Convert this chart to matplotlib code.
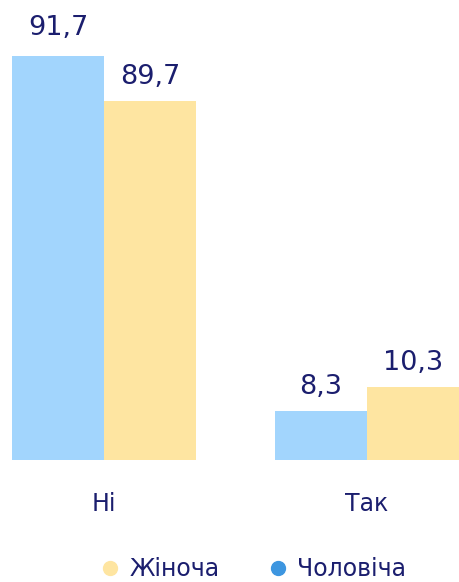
import matplotlib
matplotlib.use("Agg")
import matplotlib.pyplot as plt
import numpy as np
from matplotlib.lines import Line2D

# дані
categories = ["Ні", "Так"]
series_names = ["Чоловіча", "Жіноча"]
male_values = [91.7, 8.3]
female_values = [89.7, 10.3]
# висоти стовпців, як вони намальовані на зображенні (не збігаються з підписами)
male_heights = [91.7, 11.1]
female_heights = [81.5, 16.6]

blue = "#a2d5fd"
yellow = "#fee5a1"
blue_dot = "#3d96e0"
navy = "#1b1e6e"

plt.rcParams['font.family'] = ['DejaVu Sans']

fig = plt.figure(figsize=(4.59, 5.82), dpi=100)
ax = fig.add_axes([12 / 459, 122 / 582, 447 / 459, 460 / 582])

x = np.arange(len(categories))
w = 0.35
b1 = ax.bar(x - w / 2, male_heights, w, color=blue, label=series_names[0])
b2 = ax.bar(x + w / 2, female_heights, w, color=yellow, label=series_names[1])

for bars, vals in [(b1, male_values), (b2, female_values)]:
    for r, v in zip(bars, vals):
        off = 11 if v > 90 else 8
        ax.annotate(f"{v:.1f}".replace(".", ","),
                    (r.get_x() + r.get_width() / 2, r.get_height()),
                    xytext=(0, off), textcoords="offset points",
                    ha="center", va="bottom", fontsize=19.5, color=navy)

ax.set_xlim(-0.35, 1.35)
ax.set_ylim(0, 460 / 4.406)
ax.set_xticks(x)
ax.set_xticklabels(categories, fontsize=17, color=navy)
ax.tick_params(axis="x", length=0, pad=23)
ax.set_yticks([])
for s in ax.spines.values():
    s.set_visible(False)

handles = [Line2D([], [], marker="o", linestyle="", markersize=10,
                  color=yellow, label=series_names[1]),
           Line2D([], [], marker="o", linestyle="", markersize=10,
                  color=blue_dot, label=series_names[0])]
leg = fig.legend(handles=handles, loc="center", ncol=2,
                 bbox_to_anchor=(0.55, 13 / 582), frameon=False,
                 fontsize=17, handletextpad=0.3, columnspacing=2.0,
                 handlelength=1.0, borderpad=0.1)
for t in leg.get_texts():
    t.set_color(navy)

fig.savefig("out.png", dpi=100)
